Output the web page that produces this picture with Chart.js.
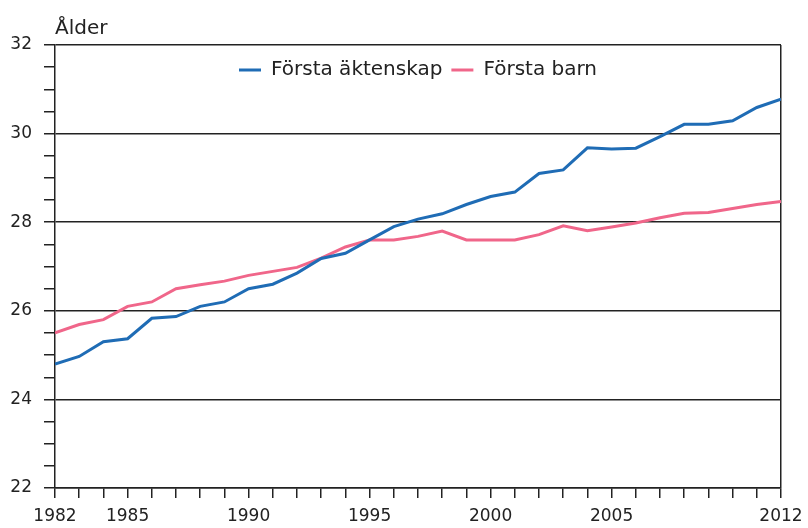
<!DOCTYPE html>
<html>
<head>
<meta charset="utf-8">
<script src="https://cdn.jsdelivr.net/npm/chart.js@4/dist/chart.umd.min.js"></script>
<style>
  html, body { margin: 0; padding: 0; background: #fff; }
  #wrap { width: 808px; height: 528px; }
</style>
</head>
<body>
<div id="wrap"><canvas id="chart"></canvas></div>
<script>
// Medelålder vid första äktenskap / första barn
const years = [1982, 1983, 1984, 1985, 1986, 1987, 1988, 1989, 1990, 1991,
  1992, 1993, 1994, 1995, 1996, 1997, 1998, 1999, 2000, 2001,
  2002, 2003, 2004, 2005, 2006, 2007, 2008, 2009, 2010, 2011, 2012];

const forstaAktenskap = [24.8, 24.97, 25.3, 25.37, 25.83, 25.87, 26.1, 26.2, 26.5, 26.6,
  26.85, 27.18, 27.3, 27.6, 27.9, 28.07, 28.19, 28.4, 28.58, 28.68,
  29.1, 29.18, 29.68, 29.65, 29.67, 29.93, 30.21, 30.21, 30.29, 30.59, 30.78];

const forstaBarn = [25.5, 25.69, 25.8, 26.1, 26.2, 26.5, 26.59, 26.67, 26.8, 26.89,
  26.98, 27.19, 27.44, 27.6, 27.6, 27.68, 27.8, 27.6, 27.6, 27.6,
  27.72, 27.92, 27.81, 27.89, 27.98, 28.1, 28.2, 28.22, 28.31, 28.4, 28.47];

const xLabelYears = [1982, 1985, 1990, 1995, 2000, 2005, 2012];
const yLabelValues = [22, 24, 26, 28, 30, 32];

const FONT = "'DejaVu Sans', Verdana, sans-serif";
const INK = '#222';
const BLUE = '#1f6cb5';
const PINK = '#f0668a';

// "Ålder" above the plot, and the legend pulled down inside the plot area
const extras = {
  id: 'extras',
  afterLayout(chart) {
    const lg = chart.legend;
    const ca = chart.chartArea;
    const h = lg.height;
    lg.top = ca.top + 6;
    lg.bottom = lg.top + h;
    lg.left = ca.left;
    lg.right = ca.right;
    lg.width = ca.right - ca.left;
  },
  afterDraw(chart) {
    const { ctx, chartArea } = chart;
    ctx.save();
    ctx.font = '20px ' + FONT;
    ctx.fillStyle = INK;
    ctx.textBaseline = 'alphabetic';
    ctx.fillText('Ålder', chartArea.left, 34);
    ctx.restore();
  }
};

const ctx = document.getElementById('chart').getContext('2d');
new Chart(ctx, {
  type: 'line',
  data: {
    datasets: [
      {
        label: 'Första äktenskap',
        data: years.map((y, i) => ({ x: y, y: forstaAktenskap[i] })),
        borderColor: BLUE,
        backgroundColor: BLUE,
        borderWidth: 3,
        pointRadius: 0,
        tension: 0
      },
      {
        label: 'Första barn',
        data: years.map((y, i) => ({ x: y, y: forstaBarn[i] })),
        borderColor: PINK,
        backgroundColor: PINK,
        borderWidth: 3,
        pointRadius: 0,
        tension: 0
      }
    ]
  },
  options: {
    responsive: true,
    maintainAspectRatio: false,
    animation: false,
    layout: { padding: { top: 6, right: 27, bottom: 0, left: 0 } },
    plugins: {
      tooltip: { enabled: false },
      legend: {
        position: 'top',
        align: 'center',
        labels: {
          boxWidth: 22,
          boxHeight: 3,
          padding: 9,
          color: INK,
          font: { family: FONT, size: 20 },
          generateLabels: (chart) =>
            Chart.defaults.plugins.legend.labels.generateLabels(chart)
              .map(l => ({ ...l, lineWidth: 0 }))
        }
      }
    },
    scales: {
      x: {
        type: 'linear',
        min: 1982,
        max: 2012,
        afterFit: (s) => { s.height = 40; s.paddingLeft = 0; s.paddingRight = 0; },
        border: { color: INK, width: 1.5 },
        grid: {
          drawOnChartArea: true,
          color: (c) => (c.tick && c.tick.value === 2012 ? INK : 'rgba(0,0,0,0)'),
          tickColor: INK,
          tickLength: 10,
          lineWidth: 1.5
        },
        ticks: {
          stepSize: 1,
          autoSkip: false,
          maxRotation: 0,
          padding: 8,
          color: INK,
          font: { family: FONT, size: 17 },
          callback: (v) => (xLabelYears.includes(v) ? String(v) : '')
        }
      },
      y: {
        min: 22,
        max: 32,
        afterFit: (s) => { s.width = 55; },
        border: { color: INK, width: 1.5 },
        grid: {
          color: (c) => (c.tick && yLabelValues.includes(c.tick.value) ? INK : 'rgba(0,0,0,0)'),
          tickColor: INK,
          tickLength: 11,
          lineWidth: 1.5
        },
        ticks: {
          stepSize: 0.5,
          autoSkip: false,
          padding: 12,
          color: INK,
          font: { family: FONT, size: 17 },
          callback: (v) => (yLabelValues.includes(v) ? String(v) : '')
        }
      }
    }
  },
  plugins: [extras]
});
</script>
</body>
</html>
